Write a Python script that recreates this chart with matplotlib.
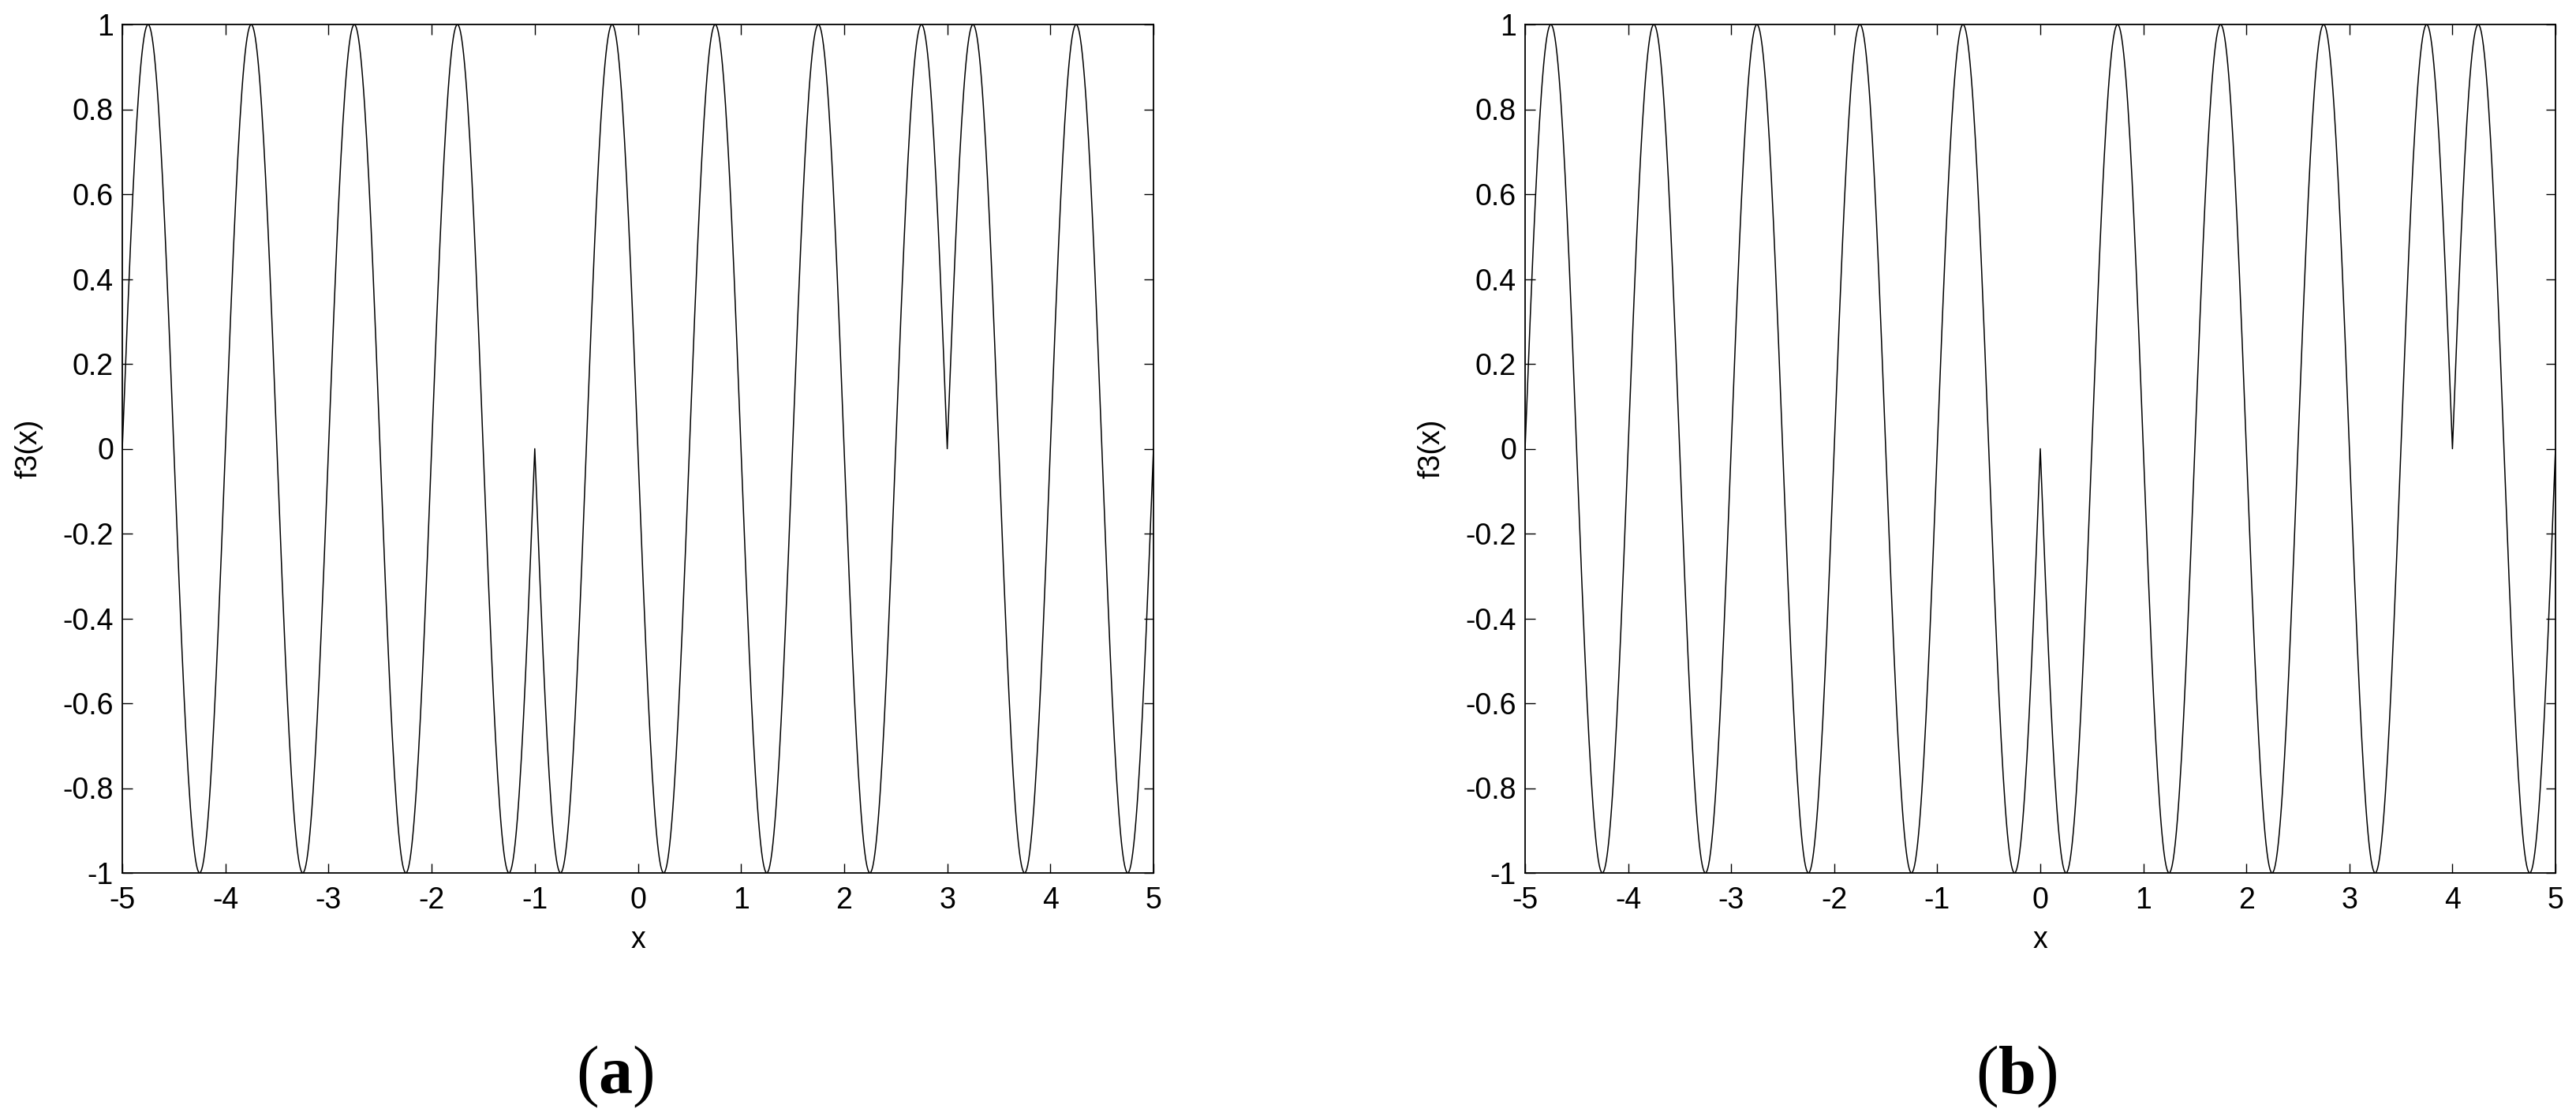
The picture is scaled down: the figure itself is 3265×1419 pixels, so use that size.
import matplotlib
matplotlib.use("Agg")
import matplotlib.pyplot as plt
import numpy as np

# values
x_range = [-5, 5]
x_step = 0.01
cycles_per_unit = 1.0          # one full period per unit of x
fold_points_a = [-1, 3]        # where the curve flips sign in panel (a)
fold_points_b = [0, 4]         # where the curve flips sign in panel (b)
panel_labels = ["a", "b"]
x_ticks = [-5, -4, -3, -2, -1, 0, 1, 2, 3, 4, 5]
y_ticks = [-1, -0.8, -0.6, -0.4, -0.2, 0, 0.2, 0.4, 0.6, 0.8, 1]
y_tick_labels = ["-1", "-0.8", "-0.6", "-0.4", "-0.2", "0",
                 "0.2", "0.4", "0.6", "0.8", "1"]

plt.rcParams["font.family"] = ["Liberation Sans", "DejaVu Sans"]
plt.rcParams["mathtext.fontset"] = "custom"
plt.rcParams["mathtext.rm"] = "Liberation Serif"
plt.rcParams["mathtext.bf"] = "Liberation Serif:bold"


def f3(x, folds):
    inside = (x > folds[0]) & (x < folds[1])
    sign = np.where(inside, -1.0, 1.0)
    return sign * np.sin(2 * np.pi * cycles_per_unit * x)


x = np.arange(x_range[0], x_range[1] + x_step / 2, x_step)

fig = plt.figure(figsize=(32.65, 14.19), dpi=100)
W, H = 3265, 1419
boxes = [(155, 1462), (1933, 3239)]
top, bottom = 31, 1106
label_centers = [779, 2556]

for (left, right), folds, lab, cx in zip(boxes, [fold_points_a, fold_points_b],
                                          panel_labels, label_centers):
    ax = fig.add_axes([left / W, 1 - bottom / H, (right - left) / W,
                       (bottom - top) / H])
    ax.plot(x, f3(x, folds), color="black", lw=1.1)
    ax.set_xlim(x_range)
    ax.set_ylim(-1, 1)
    ax.set_xticks(x_ticks)
    ax.set_xticklabels([str(t) for t in x_ticks])
    ax.set_yticks(y_ticks)
    ax.set_yticklabels(y_tick_labels)
    ax.tick_params(direction="in", length=9, width=1.0, labelsize=27,
                   top=True, right=True)
    ax.tick_params(axis="x", pad=12)
    ax.tick_params(axis="y", pad=8)
    for s in ax.spines.values():
        s.set_linewidth(1.3)
    ax.set_xlabel("x", fontsize=27, labelpad=10)
    ax.set_ylabel("f3(x)", fontsize=27, labelpad=18)
    fig.text(cx / W, 1 - 1364 / H, r"$\mathrm{(}\mathbf{%s}\mathrm{)}$" % lab,
             fontsize=62, ha="center", va="center")

fig.savefig("out.png", dpi=100, facecolor="white")
